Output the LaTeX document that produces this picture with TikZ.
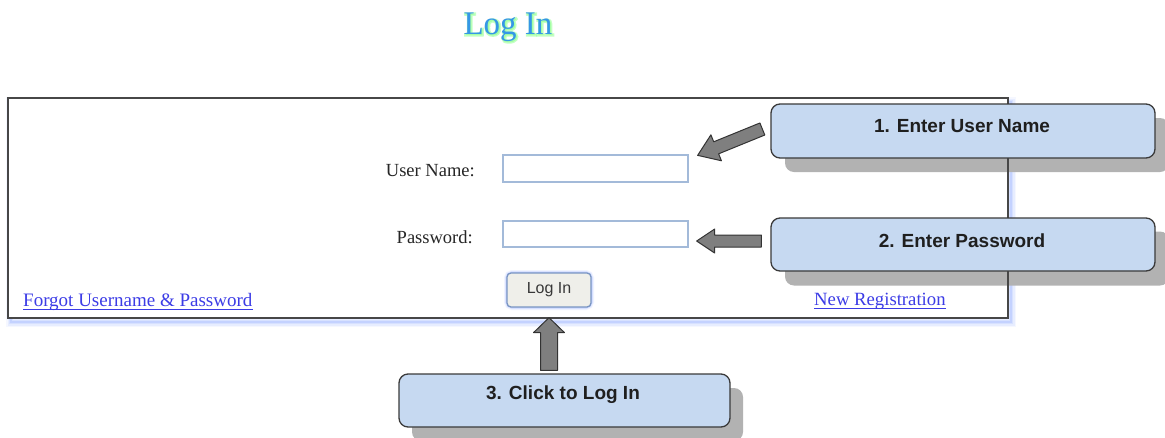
\documentclass[tikz,border=0pt]{standalone}
\usepackage{fontspec}
\setmainfont{Liberation Serif}
\setsansfont{Liberation Sans}
\newfontfamily\haloserif[FakeBold=8]{Liberation Serif}
\usetikzlibrary{calc}

\definecolor{calloutfill}{HTML}{C6D9F1}
\definecolor{calloutline}{HTML}{3A3A3A}
\definecolor{shadowgray}{HTML}{B2B2B2}
\definecolor{arrowfill}{HTML}{7F7F7F}
\definecolor{linkblue}{HTML}{3C3CE6}
\definecolor{fieldline}{HTML}{A3BAD9}
\definecolor{titleblue}{HTML}{3597E6}
\definecolor{titleglow}{HTML}{7CFF7C}
\definecolor{glowblue}{HTML}{4D79FF}
\definecolor{btnline}{HTML}{7A95C2}
\definecolor{btnfill}{HTML}{EFEFEA}

% block arrow from a tail point to a tip point:
% #1 tail, #2 tip, #3 half shaft width, #4 half head width, #5 head length
\newcommand{\drawblockarrow}[5]{%
  \path ($(#2)!#5!(#1)$) coordinate (ba-h);
  \draw[blockarrow] (#2) -- ($(ba-h)!#4!90:(#1)$) -- ($(ba-h)!#3!90:(#1)$)
    -- ($(#1)!#3!-90:(ba-h)$) -- ($(#1)!#3!90:(ba-h)$)
    -- ($(ba-h)!#3!-90:(#1)$) -- ($(ba-h)!#4!-90:(#1)$) -- cycle;
}

\tikzset{
  callout/.style={draw=calloutline, line width=1.3pt, fill=calloutfill,
    rounded corners=9pt, minimum width=384pt, minimum height=54pt, inner sep=0pt},
  callout3/.style={callout, minimum width=331pt, minimum height=53pt},
  calloutshadow/.style={fill=shadowgray, rounded corners=9pt,
    minimum width=384pt, minimum height=54pt, inner sep=0pt},
  calloutshadow3/.style={calloutshadow, minimum width=331pt, minimum height=53pt},
  callouttext/.style={font=\sffamily\bfseries\fontsize{19}{22}\selectfont,
    text=black!88, inner sep=0pt},
  panelbox/.style={draw=black!72, line width=1.4pt, minimum width=1000pt,
    minimum height=220pt, inner sep=0pt},
  field/.style={draw=fieldline, line width=1.3pt, fill=white,
    minimum width=185pt, minimum height=27pt, inner sep=0pt},
  fieldlabel/.style={font=\fontsize{18.5}{22}\selectfont, text=black!85,
    inner sep=0pt, anchor=base east},
  link/.style={font=\fontsize{19}{22}\selectfont, text=linkblue,
    inner sep=0pt, anchor=base west},
  underline/.style={draw=linkblue, line width=1.3pt},
  button/.style={draw=btnline, line width=1.3pt, fill=btnfill, rounded corners=4pt,
    minimum width=84pt, minimum height=34pt, inner sep=0pt,
    font=\sffamily\fontsize{16}{19}\selectfont, text=black!78},
  blockarrow/.style={fill=arrowfill, draw=black!80, line width=1pt, line join=round},
  titlefont/.style={font=\fontsize{33}{38}\selectfont, inner sep=0pt},
}

\begin{document}
\begin{tikzpicture}[x=1pt, y=-1pt]
\useasboundingbox (0,0) rectangle (1165,437);

% positions
\coordinate (pnw) at (8,98);
\coordinate (pse) at (1008,318);
\coordinate (p1) at (963,131);
\coordinate (p2) at (963,244.5);
\coordinate (p3) at (564.5,400.5);

% title with a soft green halo
\node[titlefont, font=\haloserif\fontsize{33}{38}\selectfont, text=titleglow,
  opacity=0.45] (titlehalo) at (509,28) {Log In};
\node[titlefont, text=titleblue] (title) at (508,27) {Log In};

% blue glow below and right of the panel
\foreach \w/\o in {10/0.06,7/0.08,4.5/0.1,2.5/0.14}
  \draw[glowblue, line width=\w pt, opacity=\o] ($(pnw)+(3,4)$) rectangle ($(pse)+(3,4)$);
\fill[white] (pnw) rectangle (pse);

% callout shadows
\node[calloutshadow] (c1s) at ($(p1)+(14,14)$) {};
\node[calloutshadow] (c2s) at ($(p2)+(14,14)$) {};
\node[calloutshadow3] (c3s) at ($(p3)+(13,14)$) {};

% login panel
\node[panelbox] (panel) at ($(pnw)!0.5!(pse)$) {};

% form fields
\node[field] (userbox) at (595.5,168.5) {};
\node[field, minimum height=26pt] (pwbox) at (595.5,234) {};
\node[fieldlabel] (userlbl) at (475,176) {User Name:};
\node[fieldlabel] (pwlbl) at (473,243) {Password:};

% log in button with glow
\foreach \w/\o in {6/0.08,4/0.12,2.5/0.16}
  \draw[glowblue, line width=\w pt, opacity=\o, rounded corners=5pt]
    (507,273) rectangle (591,307);
\node[button] (loginbtn) at (549,290) {Log In};

% links
\node[link] (forgot) at (23,306) {Forgot Username \& Password};
\draw[underline] ($(forgot.base west)+(0,3.5)$) -- ($(forgot.base east)+(0,3.5)$);
\node[link, font=\fontsize{18.7}{22}\selectfont] (newreg) at (814,305) {New Registration};
\draw[underline] ($(newreg.base west)+(0,3.5)$) -- ($(newreg.base east)+(0,3.5)$);

% callouts
\node[callout] (c1) at (p1) {};
\node[callouttext] (c1t) at (962,126) {1. Enter User Name};
\node[callout, minimum height=53pt] (c2) at (p2) {};
\node[callouttext] (c2t) at (962,241) {2. Enter Password};
\node[callout3] (c3) at (p3) {};
\node[callouttext] (c3t) at (563,395) {3. Click to Log In};

% pointer arrows
\coordinate (a1tail) at ($(c1.west)+(-8,-2)$);
\coordinate (a1tip) at ($(userbox.north east)+(9,1)$);
\drawblockarrow{a1tail}{a1tip}{6.5pt}{14pt}{20pt}
\coordinate (a2tail) at ($(c2.west)+(-9,-3.5)$);
\coordinate (a2tip) at ($(pwbox.east)+(8,7)$);
\drawblockarrow{a2tail}{a2tip}{6pt}{12pt}{18pt}
\coordinate (a3tip) at ($(loginbtn.south)+(0,10)$);
\coordinate (a3tail) at ($(loginbtn.south |- c3.north)+(0,-3)$);
\drawblockarrow{a3tail}{a3tip}{8.5pt}{15.5pt}{15pt}
\end{tikzpicture}
\end{document}
